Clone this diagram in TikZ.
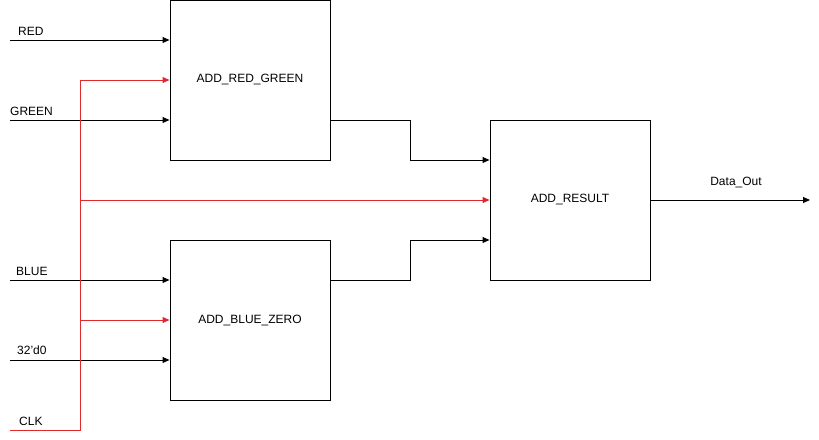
\documentclass[tikz,border=0pt]{standalone}
\usepackage{fontspec}
\setmainfont{Liberation Sans}
\usetikzlibrary{arrows.meta,positioning,calc}
\definecolor{clkred}{HTML}{E0282E}
\tikzset{
  blk/.style={draw,line width=1pt,minimum width=160pt,minimum height=160pt,inner sep=0pt,font=\fontsize{12}{14}\selectfont},
  lbl/.style={font=\fontsize{12}{14}\selectfont,inner sep=0pt,anchor=base west},
  ar/.style={-{Triangle[length=7pt,width=6pt]},line width=1pt},
  rar/.style={ar,draw=clkred,fill=clkred},
}
\begin{document}
\begin{tikzpicture}[x=1pt,y=-1pt]
\useasboundingbox (0,0) rectangle (819,439);
% adder blocks
\node[blk] (addrg) at (250,80) {ADD\_RED\_GREEN};
\node[blk] (addbz) at (250,320) {ADD\_BLUE\_ZERO};
\node[blk] (addres) at (570,200) {ADD\_RESULT};
% inputs
\coordinate (red) at (10,40);
\coordinate (green) at (10,120);
\coordinate (blue) at (10,280);
\coordinate (zero) at (10,360);
\coordinate (clk) at (10,430);
\coordinate (out) at (810,200);
\node[lbl] (redlbl) at (18,35) {RED};
\node[lbl] (greenlbl) at (10,115) {GREEN};
\node[lbl] (bluelbl) at (16,275) {BLUE};
\node[lbl] (zerolbl) at (17,354) {32'd0};
\node[lbl] (clklbl) at (19,425) {CLK};
\node[lbl,anchor=base] (outlbl) at (736,185) {Data\_Out};
\draw[ar] (red) -- (red -| addrg.west);
\draw[ar] (green) -- (green -| addrg.west);
\draw[ar] (blue) -- (blue -| addbz.west);
\draw[ar] (zero) -- (zero -| addbz.west);
% clock bus
\coordinate (tapa) at (80,80);
\coordinate (tapb) at (80,200);
\coordinate (tapc) at (80,320);
\draw[line width=1pt,clkred] (clk) -| (tapa);
\draw[rar] (tapa) -- (tapa -| addrg.west);
\draw[rar] (tapb) -- (tapb -| addres.west);
\draw[rar] (tapc) -- (tapc -| addbz.west);
% sums
\draw[ar] ($(addrg.east)+(0,40)$) -- ++(80,0) |- ($(addres.west)+(0,-40)$);
\draw[ar] ($(addbz.east)+(0,-40)$) -- ++(80,0) |- ($(addres.west)+(0,40)$);
\draw[ar] (addres.east) -- (out);
\end{tikzpicture}
\end{document}
